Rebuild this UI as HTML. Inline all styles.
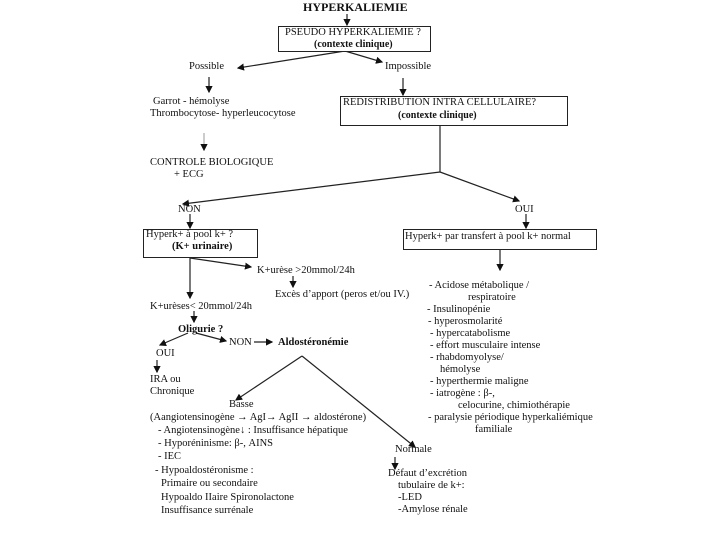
<!DOCTYPE html>
<html><head><meta charset="utf-8"><style>
body{margin:0;width:720px;height:540px;background:#fff;position:relative;overflow:hidden;font-family:"Liberation Serif",serif;font-size:10.5px;color:#111}
.t{position:absolute;white-space:nowrap;line-height:12px}
.b{font-weight:bold}
.box{position:absolute;border:1px solid #222;background:#fff}
svg{position:absolute;left:0;top:0}
</style></head><body>
<svg width="720" height="540">
<defs><marker id="a" markerWidth="6" markerHeight="6" refX="5" refY="3" orient="auto"><path d="M0,0L6,3L0,6z" fill="#111"/></marker></defs>
<g stroke="#222" stroke-width="1.2" fill="none" marker-end="url(#a)">
<line x1="347" y1="14" x2="347" y2="25"/>
<line x1="345" y1="51" x2="238" y2="68"/>
<line x1="345" y1="51" x2="382" y2="62"/>
<line x1="209" y1="77" x2="209" y2="92"/>
<line x1="204" y1="133" x2="204" y2="150" stroke="#aaa"/>
<line x1="403" y1="78" x2="403" y2="95"/>
<line x1="440" y1="172" x2="183" y2="204"/>
<line x1="440" y1="172" x2="519" y2="201"/>
<line x1="190" y1="214" x2="190" y2="228"/>
<line x1="526" y1="214" x2="526" y2="228"/>
<line x1="190" y1="258" x2="190" y2="298"/>
<line x1="190" y1="258" x2="251" y2="267"/>
<line x1="293" y1="276" x2="293" y2="287"/>
<line x1="194" y1="311" x2="194" y2="322"/>
<line x1="188" y1="333" x2="160" y2="345"/>
<line x1="196" y1="333" x2="226" y2="341"/>
<line x1="254" y1="342" x2="272" y2="342"/>
<line x1="157" y1="360" x2="157" y2="372"/>
<line x1="302" y1="356" x2="236" y2="400"/>
<line x1="302" y1="356" x2="415" y2="447"/>
<line x1="500" y1="248" x2="500" y2="270"/>
<line x1="395" y1="457" x2="395" y2="469"/>
</g>
<line x1="440" y1="125" x2="440" y2="172" stroke="#222" stroke-width="1.2"/>
</svg>
<div class="t b" style="left:303px;top:1px;font-size:12px">HYPERKALIEMIE</div>
<div class="box" style="left:278px;top:26px;width:151px;height:24px"></div>
<div class="t" style="left:285px;top:27px">PSEUDO HYPERKALIEMIE ?</div>
<div class="t b" style="left:314px;top:39px;font-size:10px">(contexte clinique)</div>
<div class="t" style="left:189px;top:61px">Possible</div>
<div class="t" style="left:385px;top:61px">Impossible</div>
<div class="t" style="left:153px;top:96px">Garrot - hémolyse</div>
<div class="t" style="left:150px;top:108px">Thrombocytose- hyperleucocytose</div>
<div class="t" style="left:150px;top:157px">CONTROLE BIOLOGIQUE</div>
<div class="t" style="left:174px;top:169px">+ ECG</div>
<div class="box" style="left:340px;top:96px;width:226px;height:28px"></div>
<div class="t" style="left:343px;top:97px">REDISTRIBUTION INTRA CELLULAIRE?</div>
<div class="t b" style="left:398px;top:110px;font-size:10px">(contexte clinique)</div>
<div class="t" style="left:178px;top:204px">NON</div>
<div class="t" style="left:515px;top:204px">OUI</div>
<div class="box" style="left:143px;top:229px;width:113px;height:27px"></div>
<div class="t" style="left:146px;top:229px">Hyperk+ à pool  k+ ?</div>
<div class="t b" style="left:172px;top:241px">(K+ urinaire)</div>
<div class="box" style="left:403px;top:229px;width:192px;height:19px"></div>
<div class="t" style="left:405px;top:231px">Hyperk+ par transfert  à pool  k+ normal</div>
<div class="t" style="left:257px;top:265px">K+urèse &gt;20mmol/24h</div>
<div class="t" style="left:275px;top:289px">Excès d’apport (peros et/ou IV.)</div>
<div class="t" style="left:150px;top:301px">K+urèses&lt; 20mmol/24h</div>
<div class="t b" style="left:178px;top:324px">Oligurie ?</div>
<div class="t" style="left:229px;top:337px">NON</div>
<div class="t b" style="left:278px;top:337px">Aldostéronémie</div>
<div class="t" style="left:156px;top:348px">OUI</div>
<div class="t" style="left:150px;top:374px">IRA  ou</div>
<div class="t" style="left:150px;top:386px">Chronique</div>
<div class="t" style="left:229px;top:399px">Basse</div>
<div class="t" style="left:150px;top:412px">(Aangiotensinogène → AgI→ AgII → aldostérone)</div>
<div class="t" style="left:158px;top:425px">- Angiotensinogène↓ :  Insuffisance  hépatique</div>
<div class="t" style="left:158px;top:438px">- Hyporéninisme:    β-, AINS</div>
<div class="t" style="left:158px;top:451px">- IEC</div>
<div class="t" style="left:155px;top:465px">- Hypoaldostéronisme :</div>
<div class="t" style="left:161px;top:478px">Primaire ou secondaire</div>
<div class="t" style="left:161px;top:492px">Hypoaldo IIaire  Spironolactone</div>
<div class="t" style="left:161px;top:505px">Insuffisance   surrénale</div>
<div class="t" style="left:429px;top:280px">-  Acidose métabolique /</div>
<div class="t" style="left:468px;top:292px">respiratoire</div>
<div class="t" style="left:427px;top:304px">- Insulinopénie</div>
<div class="t" style="left:428px;top:316px">- hyperosmolarité</div>
<div class="t" style="left:430px;top:328px">-  hypercatabolisme</div>
<div class="t" style="left:430px;top:340px">-  effort musculaire intense</div>
<div class="t" style="left:430px;top:352px">-  rhabdomyolyse/</div>
<div class="t" style="left:440px;top:364px">hémolyse</div>
<div class="t" style="left:430px;top:376px">-  hyperthermie maligne</div>
<div class="t" style="left:430px;top:388px">-  iatrogène : β-,</div>
<div class="t" style="left:458px;top:400px">celocurine, chimiothérapie</div>
<div class="t" style="left:428px;top:412px">-  paralysie périodique hyperkaliémique</div>
<div class="t" style="left:475px;top:424px">familiale</div>
<div class="t" style="left:395px;top:444px">Normale</div>
<div class="t" style="left:388px;top:468px">Défaut d’excrétion</div>
<div class="t" style="left:398px;top:480px">tubulaire de  k+:</div>
<div class="t" style="left:398px;top:492px">-LED</div>
<div class="t" style="left:398px;top:504px">-Amylose rénale</div>
</body></html>
